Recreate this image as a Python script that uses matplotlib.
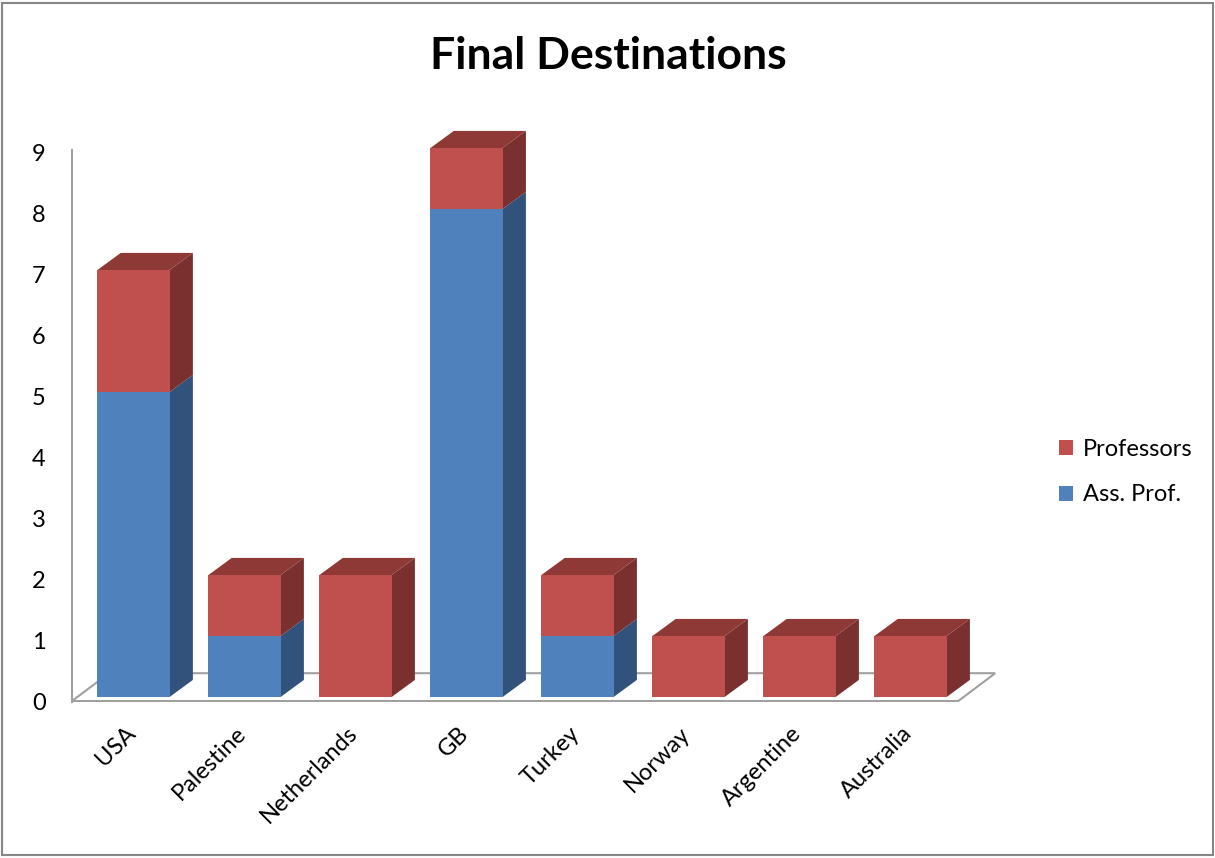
import matplotlib.pyplot as plt
from matplotlib.patches import Polygon, Patch, Rectangle

plt.rcParams['font.family'] = ['Lato', 'DejaVu Sans']

countries = ['USA', 'Palestine', 'Netherlands', 'GB', 'Turkey', 'Norway', 'Argentine', 'Australia']
ass_prof = [5, 1, 0, 8, 1, 0, 0, 0]
professors = [2, 1, 2, 1, 1, 1, 1, 1]
y_ticks = list(range(10))

# colours: front, side, top
blue = ('#4F81BD', '#30527B', '#3F6A9C')
red = ('#C0504D', '#7A302E', '#8E3936')

bar_w = 0.65
ddx, ddy = 0.21, 0.28

fig = plt.figure(figsize=(12.15, 8.58), dpi=100)
ax = fig.add_axes([72 / 1215, 156 / 858, 928 / 1215, 572 / 858])
ax.set_xlim(-0.554, 7.806)
ax.set_ylim(-0.082, 9.295)

# floor
fx0, fx1, fy0, fy1, fdx = -0.554, 7.43, -0.066, 0.39, 0.333
floor = Polygon([(fx0, fy0), (fx1, fy0), (fx1 + fdx, fy1), (fx0 + fdx, fy1)],
                closed=True, facecolor='white', edgecolor='#A0A0A0', lw=1.5, zorder=1)
ax.add_patch(floor)


def box(x, y0, y1, cols, top):
    l, r = x - bar_w / 2, x + bar_w / 2
    ax.add_patch(Polygon([(r, y0), (r + ddx, y0 + ddy), (r + ddx, y1 + ddy), (r, y1)],
                         closed=True, facecolor=cols[1], edgecolor='none', zorder=3))
    if top:
        ax.add_patch(Polygon([(l, y1), (r, y1), (r + ddx, y1 + ddy), (l + ddx, y1 + ddy)],
                             closed=True, facecolor=cols[2], edgecolor='none', zorder=3))
    ax.add_patch(Rectangle((l, y0), bar_w, y1 - y0, facecolor=cols[0], edgecolor='none', zorder=4))


for i, (a, p) in enumerate(zip(ass_prof, professors)):
    if a > 0:
        box(i, 0, a, blue, p == 0)
    if p > 0:
        box(i, a, a + p, red, True)

for s in ['top', 'right', 'bottom']:
    ax.spines[s].set_visible(False)
ax.spines['left'].set_color('#A0A0A0')
ax.spines['left'].set_linewidth(1.5)
ax.spines['left'].set_bounds(-0.08, 8.97)

ax.set_yticks([v - 0.08 for v in y_ticks])
ax.set_yticklabels([str(v) for v in y_ticks], fontsize=17)
ax.tick_params(axis='y', length=0, pad=19)
ax.set_xticks([])

for i, c in enumerate(countries):
    ax.text(i - 0.08, -0.42, c, rotation=45, rotation_mode='anchor',
            ha='right', va='top', fontsize=17, clip_on=False)

fig.text(0.501, (858 - 56) / 858, 'Final Destinations', ha='center', va='center',
         fontsize=32, fontweight='bold')

handles = [Patch(facecolor=red[0]), Patch(facecolor=blue[0])]
fig.legend(handles, ['Professors', 'Ass. Prof.'], loc='center left',
           bbox_to_anchor=(1038 / 1215, (858 - 472) / 858), frameon=False,
           fontsize=17, handlelength=0.6, handleheight=0.6, handletextpad=0.4,
           labelspacing=1.05)

fig.add_artist(Rectangle((0.002, 0.003), 0.996, 0.994, transform=fig.transFigure,
                         facecolor='none', edgecolor='#868686', lw=1.5))

fig.savefig('out.png', dpi=100)
